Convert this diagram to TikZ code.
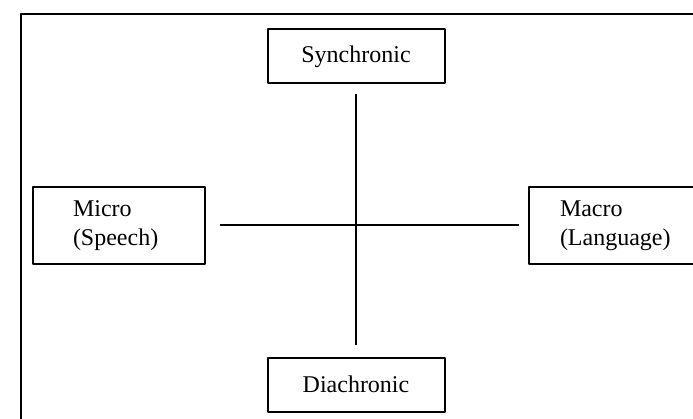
\documentclass[tikz,border=0pt]{standalone}
\usepackage{fontspec}
\setmainfont{Liberation Serif}
\begin{document}
\begin{tikzpicture}[x=1pt, y=-1pt, line join=round,
    font=\fontsize{24}{29}\selectfont,
    termbox/.style={draw, line width=2pt, minimum height=54pt, minimum width=177pt, inner sep=0pt},
    sidebox/.style={draw, line width=2pt, minimum height=77pt, align=left, inner ysep=0pt},
    axis/.style={line width=2pt}]
    \useasboundingbox (0,0) rectangle (693,419);
    \draw[line width=2pt] (21,14) rectangle (720,450);
    \node[termbox] (synch) at (356,56.5) {Synchronic};
    \node[termbox] (diach) at (356,384.5) {Diachronic};
    \node[sidebox, text width=92pt, inner xsep=40pt] (micro) at (119,225.5) {Micro\\(Speech)};
    \node[sidebox, text width=110pt, inner xsep=31pt] (macro) at (615,225.5) {Macro\\(Language)};
    \draw[axis, shorten <=10pt, shorten >=11pt] (synch) -- (diach);
    \draw[axis, shorten <=14pt, shorten >=9pt] (micro) -- (macro);
\end{tikzpicture}
\end{document}
